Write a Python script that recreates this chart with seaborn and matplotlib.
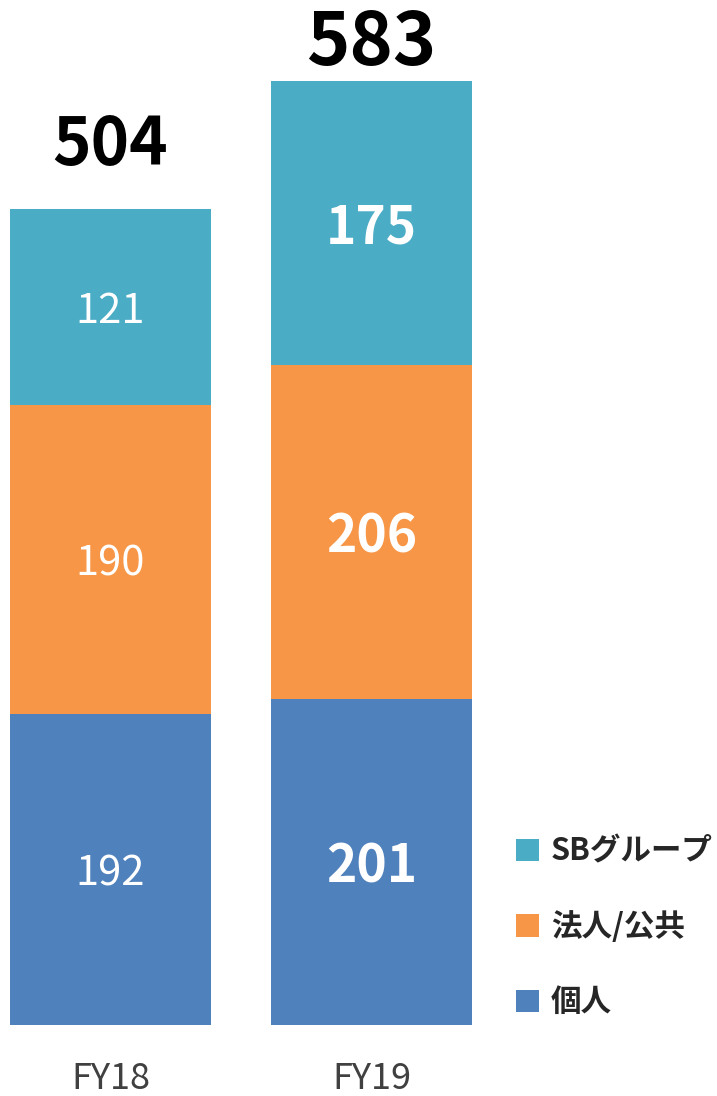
import numpy as np
import pandas as pd
import matplotlib
matplotlib.use("Agg")
import matplotlib.pyplot as plt
import seaborn as sns
from matplotlib.patches import Patch

# Data
years = ["FY18", "FY19"]
kojin = [192, 201]        # 個人
houjin = [190, 206]       # 法人/公共
sb_group = [121, 175]     # SBグループ
totals = [504, 583]

series_names = ["個人", "法人/公共", "SBグループ"]
colors = ["#4F81BD", "#F79646", "#4BACC6"]

sns.set_style("white")
plt.rcParams["font.family"] = ["Noto Sans CJK JP", "DejaVu Sans"]

fig = plt.figure(figsize=(7.17, 10.96), dpi=100)
ax = fig.add_axes([0, 1 - 1025 / 1096, 1, 1025 / 1096])

df = pd.DataFrame({"year": years, "個人": kojin, "法人/公共": houjin, "SBグループ": sb_group})
df["c1"] = df["個人"]
df["c2"] = df["c1"] + df["法人/公共"]
df["c3"] = df["c2"] + df["SBグループ"]

# stacked by drawing cumulative totals, largest first
for col, color in zip(["c3", "c2", "c1"], colors[::-1]):
    sns.barplot(data=df, x="year", y=col, ax=ax, color=color, width=0.77,
                saturation=1, errorbar=None, linewidth=0)

ax.set_xlim(-110.5 / 261, (717 - 110.5) / 261)
ax.set_ylim(0, 1025 / 1.622)
ax.set_xlabel("")
ax.set_ylabel("")
ax.set_yticks([])
sns.despine(ax=ax, left=True, bottom=True)
ax.tick_params(axis="x", length=0, pad=26, labelsize=26, labelcolor="#404040")

# segment labels
for i in range(len(years)):
    bold = i == 1
    size = 37 if bold else 30
    weight = "bold" if bold else "normal"
    base = 0
    for vals in [kojin, houjin, sb_group]:
        v = vals[i]
        ax.text(i, base + v / 2, str(v), ha="center", va="center_baseline",
                color="white", fontsize=size, fontweight=weight)
        base += v

# totals on top
total_size = [47, 53]
total_offset = [43, 14]
for i, t in enumerate(totals):
    ax.annotate(str(t), (i, t), xytext=(0, total_offset[i]), textcoords="offset pixels",
                ha="center", va="baseline", fontsize=total_size[i],
                fontweight="bold", color="black")

handles = [Patch(facecolor=c, edgecolor="none") for c in colors[::-1]]
fig.legend(handles, series_names[::-1], loc="center left",
           bbox_to_anchor=(516 / 717, 1 - 927 / 1096), frameon=False,
           prop={"size": 22, "weight": "bold"}, handlelength=0.75, handleheight=0.75,
           handletextpad=0.4, labelspacing=1.42, borderpad=0, borderaxespad=0)

fig.savefig("out.png", dpi=100)
